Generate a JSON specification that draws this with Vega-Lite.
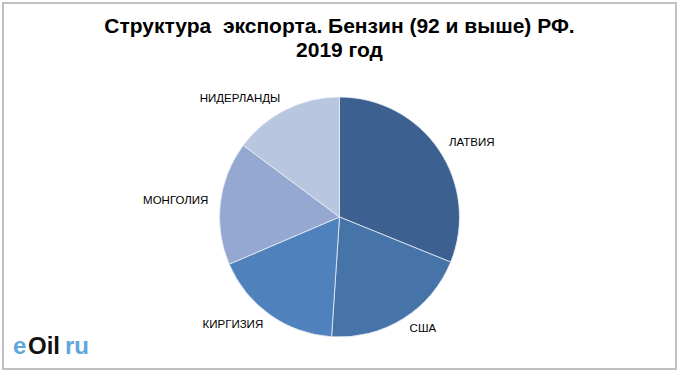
{
  "$schema": "https://vega.github.io/schema/vega-lite/v6.json",
  "padding": {"left": 2, "top": 2, "right": 5, "bottom": 7},
  "background": "white",
  "config": {"view": {"stroke": "#C0C0C0", "strokeWidth": 2}, "font": "Liberation Sans"},
  "datasets": {
    "exports": [
      {"country": "ЛАТВИЯ", "share": 31.1},
      {"country": "США", "share": 19.9},
      {"country": "КИРГИЗИЯ", "share": 17.5},
      {"country": "МОНГОЛИЯ", "share": 16.6},
      {"country": "НИДЕРЛАНДЫ", "share": 14.8}
    ]
  },
  "title": {"text": "e", "orient": "bottom", "anchor": "start", "offset": -35, "dx": 11, "fontSize": 24, "fontWeight": "bold", "color": "#5EA6DC", "font": "Liberation Sans"},
  "vconcat": [
    {
      "title": {"text": "Oil", "orient": "bottom", "anchor": "start", "offset": -35, "dx": 26, "fontSize": 24, "fontWeight": "bold", "color": "#111111", "font": "Liberation Sans"},
      "vconcat": [
        {
          "title": {"text": "ru", "orient": "bottom", "anchor": "start", "offset": -35, "dx": 63, "fontSize": 24, "fontWeight": "bold", "color": "#5EA6DC", "font": "Liberation Sans"},
          "vconcat": [
            {
              "width": 673,
              "height": 366,
              "view": {"stroke": "#C0C0C0", "strokeWidth": 2, "fill": "white"},
              "title": {"text": ["Структура\u00a0 экспорта. Бензин (92 и выше) РФ.", "2019 год"], "orient": "top", "anchor": "middle", "offset": -58, "fontSize": 21, "fontWeight": "bold", "lineHeight": 24, "color": "#000000", "font": "Liberation Sans"},
              "data": {"name": "exports"},
              "encoding": {
                "theta": {"field": "share", "type": "quantitative", "stack": true},
                "order": {"field": "share", "sort": "descending"}
              },
              "layer": [
                {
                  "mark": {"type": "arc", "outerRadius": 120, "yOffset": 31, "stroke": "#E8EEF6", "strokeWidth": 0.8},
                  "encoding": {
                    "color": {
                      "field": "country",
                      "type": "nominal",
                      "scale": {
                        "domain": ["ЛАТВИЯ", "США", "КИРГИЗИЯ", "МОНГОЛИЯ", "НИДЕРЛАНДЫ"],
                        "range": ["#3C6191", "#4674A9", "#4F81BD", "#95A8D1", "#B9C6E0"]
                      },
                      "legend": null
                    }
                  }
                },
                {
                  "mark": {"type": "text", "radius": 132, "yOffset": 31, "fontSize": 11.5, "font": "Liberation Sans", "color": "#000000", "baseline": "middle",
                    "align": {"expr": "datum.country === 'ЛАТВИЯ' || datum.country === 'США' ? 'left' : 'right'"}},
                  "encoding": {"text": {"field": "country", "type": "nominal"}}
                }
              ]
            }
          ]
        }
      ]
    }
  ]
}
